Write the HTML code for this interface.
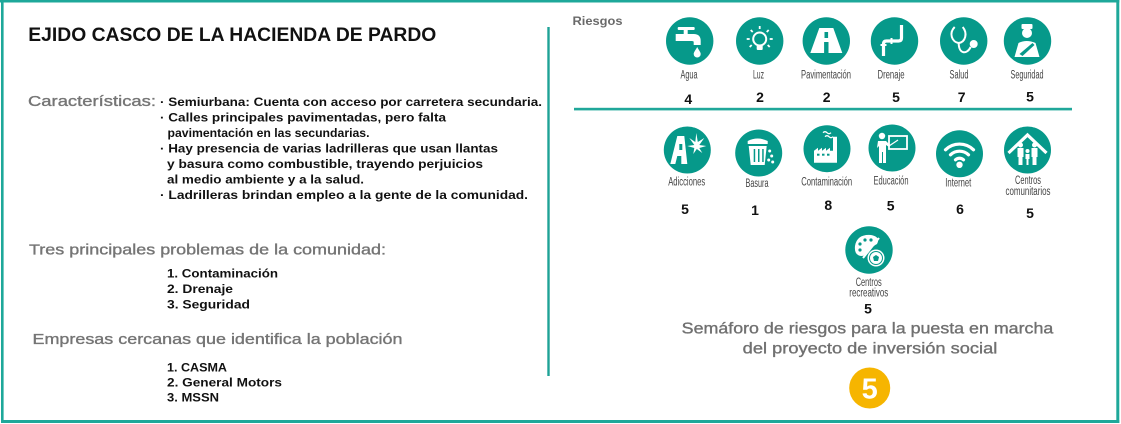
<!DOCTYPE html>
<html><head><meta charset="utf-8"><style>
html,body{margin:0;padding:0;background:#fff;}
svg{display:block;}
text{font-family:"Liberation Sans",sans-serif;}
.lb{font-size:11.5px;fill:#444;}
.nm{font-size:14px;font-weight:bold;fill:#111;text-anchor:middle;}
.bl{font-size:12px;font-weight:bold;fill:#111;}
.gr{font-size:14.5px;fill:#757575;stroke:#757575;stroke-width:0.35px;}
</style></head><body>
<svg width="1121" height="424" viewBox="0 0 1121 424" xmlns="http://www.w3.org/2000/svg">
<rect x="0" y="0" width="1121" height="424" fill="#fff"/>
<!-- border -->
<rect x="0" y="0" width="1119.3" height="2.5" fill="#1ea89a"/>
<rect x="1" y="0" width="2.6" height="423" fill="#1ea89a"/>
<rect x="1116.3" y="0" width="3" height="423" fill="#1ea89a"/>
<rect x="1" y="420" width="1118.3" height="3" fill="#1ea89a"/>
<!-- divider -->
<rect x="547.3" y="27" width="2.4" height="349" fill="#1ea296"/>
<rect x="574" y="107.8" width="498" height="2.6" fill="#20a79a"/>

<!-- left panel -->
<text x="28.3" y="41" font-size="19" font-weight="bold" fill="#111" textLength="408" lengthAdjust="spacingAndGlyphs">EJIDO CASCO DE LA HACIENDA DE PARDO</text>
<text class="gr" x="28" y="106" textLength="128" lengthAdjust="spacingAndGlyphs">Características:</text>
<text class="bl" x="160" y="106" textLength="382" lengthAdjust="spacingAndGlyphs">· Semiurbana: Cuenta con acceso por carretera secundaria.</text>
<text class="bl" x="160" y="121.5" textLength="286" lengthAdjust="spacingAndGlyphs">· Calles principales pavimentadas, pero falta</text>
<text class="bl" x="167.5" y="137" textLength="202" lengthAdjust="spacingAndGlyphs">pavimentación en las secundarias.</text>
<text class="bl" x="160" y="152.5" textLength="338" lengthAdjust="spacingAndGlyphs">· Hay presencia de varias ladrilleras que usan llantas</text>
<text class="bl" x="167" y="168" textLength="316" lengthAdjust="spacingAndGlyphs">y basura como combustible, trayendo perjuicios</text>
<text class="bl" x="167" y="183.5" textLength="197" lengthAdjust="spacingAndGlyphs">al medio ambiente y a la salud.</text>
<text class="bl" x="160" y="199" textLength="368" lengthAdjust="spacingAndGlyphs">· Ladrilleras brindan empleo a la gente de la comunidad.</text>

<text class="gr" x="29" y="254.3" textLength="357" lengthAdjust="spacingAndGlyphs">Tres principales problemas de la comunidad:</text>
<text class="bl" x="167" y="277.5" font-size="12.5" textLength="111" lengthAdjust="spacingAndGlyphs">1. Contaminación</text>
<text class="bl" x="167" y="293" font-size="12.5" textLength="66" lengthAdjust="spacingAndGlyphs">2. Drenaje</text>
<text class="bl" x="167" y="308.5" font-size="12.5" textLength="83" lengthAdjust="spacingAndGlyphs">3. Seguridad</text>

<text class="gr" x="32.5" y="344" textLength="370" lengthAdjust="spacingAndGlyphs">Empresas cercanas que identifica la población</text>
<text class="bl" x="167" y="371.7" font-size="12.5" textLength="60" lengthAdjust="spacingAndGlyphs">1. CASMA</text>
<text class="bl" x="167" y="386.7" font-size="12.5" textLength="115" lengthAdjust="spacingAndGlyphs">2. General Motors</text>
<text class="bl" x="167" y="401.7" font-size="12.5" textLength="52" lengthAdjust="spacingAndGlyphs">3. MSSN</text>

<!-- right panel -->
<text x="572.5" y="25" font-size="12" font-weight="bold" fill="#6a6a6a" textLength="50" lengthAdjust="spacingAndGlyphs">Riesgos</text>

<g fill="#06998a">
<circle cx="689.7" cy="41" r="23.7"/>
<circle cx="759.7" cy="41" r="23.7"/>
<circle cx="826.3" cy="41" r="23.7"/>
<circle cx="894.5" cy="41" r="23.7"/>
<circle cx="963.7" cy="41" r="23.7"/>
<circle cx="1027.5" cy="41" r="23.7"/>
<circle cx="687.3" cy="150" r="23.5"/>
<circle cx="758.7" cy="153" r="23.5"/>
<circle cx="827" cy="148.7" r="23.5"/>
<circle cx="892" cy="148" r="23.5"/>
<circle cx="959.5" cy="153.8" r="23.5"/>
<circle cx="1027.5" cy="150" r="23.5"/>
<circle cx="869" cy="250" r="23.7"/>
</g>

<!-- icons -->
<g fill="#fff" stroke="none">
<g transform="translate(689.7,41)">
<rect x="-12" y="-14" width="17" height="3" rx="1"/>
<rect x="-6" y="-11" width="4" height="5"/>
<path d="M-14,-7 H4 Q11,-7 11,0 V4 H4 V1 Q4,0 2,0 H-14 Z"/>
<path d="M7.5,6 C6,9 4,11 4,13 A3.5,3.5 0 0 0 11,13 C11,11 9,9 7.5,6 Z"/>
</g>
<g transform="translate(759.7,41)">
<circle cx="0" cy="-2" r="6.5" fill="none" stroke="#fff" stroke-width="2"/>
<rect x="-3" y="4" width="6" height="5" rx="1"/>
<g stroke="#fff" stroke-width="1.8">
<line x1="0" y1="-15" x2="0" y2="-12"/>
<line x1="-9" y1="-11" x2="-7" y2="-9"/>
<line x1="9" y1="-11" x2="7" y2="-9"/>
<line x1="-13" y1="-2" x2="-10" y2="-2"/>
<line x1="13" y1="-2" x2="10" y2="-2"/>
<line x1="-10" y1="6" x2="-8" y2="4"/>
<line x1="10" y1="6" x2="8" y2="4"/>
</g>
</g>
<g transform="translate(826.3,41)">
<path d="M-7,-13 H7 L16,12 H-16 Z"/>
<rect x="-1.8" y="-9" width="3.6" height="6" fill="#06998a"/>
<rect x="-2.2" y="1" width="4.4" height="11" fill="#06998a"/>
</g>
<g transform="translate(894.5,41)" fill="none" stroke="#fff" stroke-width="3.2">
<path d="M7,-16 V-3 Q7,0 4,0 H-8 Q-11,0 -11,3 V15"/>
<line x1="-14" y1="4" x2="-8" y2="4" stroke-width="2"/>
<line x1="-3" y1="-3" x2="-3" y2="3" stroke-width="2"/>
</g>
<g transform="translate(963.7,41)" fill="none" stroke="#fff" stroke-width="2">
<path d="M-9,-14 C-15,-8 -12,1 -5,2 C2,1 4,-8 -1,-14"/>
<path d="M-5,2 C-5,13 3,14 7,6"/>
<circle cx="10" cy="3" r="3" fill="#fff"/>
</g>
<g transform="translate(1027.5,41)">
<rect x="-6" y="-17" width="11" height="5" rx="1"/>
<circle cx="-0.5" cy="-8" r="5"/>
<path d="M-13,16 L-9,2 Q-1,-2 8,2 L12,16 Z"/>
<path d="M-8,13 L5,2 L7,4 L-5,15 Z" fill="#06998a"/>
</g>
<g transform="translate(687.3,150)">
<path d="M-10,-14 H-3 L0,14 H-6 L-6,6 H-10 L-12,14 H-17 Z"/>
<rect x="-8" y="-6" width="3" height="6" fill="#06998a"/>
<path d="M9,-17 L10.5,-8 L17,-12 L12,-5 L19,-4 L12,-2 L15,3 L9.5,-1 L6,4 L7,-2 L0,-4 L7,-5 L2,-12 L8,-8 Z"/>
</g>
<g transform="translate(758.7,153)">
<path d="M-11,-12 Q-1,-17 9,-12 V-9 H-11 Z"/>
<path d="M-10,-7 H8 L6,12 H-8 Z"/>
<g fill="#06998a"><rect x="-5" y="-4" width="1.5" height="13"/><rect x="-0.7" y="-4" width="1.5" height="13"/><rect x="3.5" y="-4" width="1.5" height="13"/></g>
<circle cx="11" cy="-2" r="1.5"/><circle cx="13" cy="3" r="1.5"/><circle cx="10" cy="7" r="1.5"/><circle cx="14" cy="9" r="1.5"/>
</g>
<g transform="translate(827,148.7)">
<path d="M-13,14 V2 L-9,-1 V2 L-5,-1 V2 L-1,-1 V2 L3,-1 V2 H6 V-12 H10 V14 Z"/>
<g fill="#06998a"><rect x="-10" y="5" width="2.5" height="2"/><rect x="-5" y="5" width="2.5" height="2"/><rect x="0" y="5" width="2.5" height="2"/></g>
<path d="M-4,-16 q2,-2 4,0 t4,0" fill="none" stroke="#fff" stroke-width="1.3"/>
<path d="M-2,-12 q2,-2 4,0 t4,0" fill="none" stroke="#fff" stroke-width="1.3"/>
</g>
<g transform="translate(892,148)">
<circle cx="-10" cy="-12" r="3.2"/>
<path d="M-14,-7 H-6 L-2,-3 L-3,-1 L-6,-3 V15 H-9 V4 H-10 V15 H-13 V-2 L-15,0 Z"/>
<rect x="-3" y="-12" width="18" height="13" fill="none" stroke="#fff" stroke-width="1.8"/>
<line x1="-3" y1="-2" x2="6" y2="-8" stroke="#fff" stroke-width="1.2"/>
</g>
<g transform="translate(959.5,153.8)" fill="none" stroke="#fff" stroke-width="3.2" stroke-linecap="round">
<path d="M-14,-4 A20,20 0 0 1 14,-4"/>
<path d="M-9,1 A13,13 0 0 1 9,1"/>
<path d="M-4,6 A6,6 0 0 1 4,6"/>
<circle cx="0" cy="11" r="1.6" fill="#fff"/>
</g>
<g transform="translate(1027.5,150)">
<path d="M-19,3 L0,-15 L19,3" fill="none" stroke="#fff" stroke-width="3.2"/>
<circle cx="-7" cy="-5" r="2.5"/><circle cx="7" cy="-5" r="2.5"/><circle cx="0" cy="1" r="2"/>
<path d="M-10,-2 H-4 V7 H-5 V15 H-9 V7 H-10 Z"/>
<path d="M4,-2 H10 V7 H9 V15 H5 V7 H4 Z"/>
<path d="M-2,4 H2 V9 H1 V15 H-1 V9 H-2 Z"/>
</g>
<g transform="translate(869,250)">
<path d="M-14,-4 Q-12,-16 2,-15 Q12,-13 8,-6 Q4,-4 2,-1 Q-2,6 -8,6 Q-15,5 -14,-4 Z"/>
<g fill="#06998a"><circle cx="-9" cy="-6" r="1.6"/><circle cx="-4" cy="-10" r="1.6"/><circle cx="2" cy="-10" r="1.6"/><circle cx="-9" cy="0" r="1.6"/></g>
<line x1="-6" y1="8" x2="10" y2="-12" stroke="#fff" stroke-width="2"/>
<circle cx="7" cy="8" r="8.5"/>
<circle cx="7" cy="8" r="6.5" fill="none" stroke="#06998a" stroke-width="1"/>
<path d="M7,5 L10,7 L9,11 L5,11 L4,7 Z" fill="#06998a"/>
</g>
</g>

<!-- labels row 1 -->
<text class="lb" x="680.5" y="78.5" textLength="17" lengthAdjust="spacingAndGlyphs">Agua</text>
<text class="lb" x="753" y="78.5" textLength="11" lengthAdjust="spacingAndGlyphs">Luz</text>
<text class="lb" x="801" y="78.5" textLength="50" lengthAdjust="spacingAndGlyphs">Pavimentación</text>
<text class="lb" x="877.5" y="78.5" textLength="27" lengthAdjust="spacingAndGlyphs">Drenaje</text>
<text class="lb" x="949.5" y="78.5" textLength="19" lengthAdjust="spacingAndGlyphs">Salud</text>
<text class="lb" x="1010.5" y="78.5" textLength="33" lengthAdjust="spacingAndGlyphs">Seguridad</text>
<text class="nm" x="688.3" y="104">4</text>
<text class="nm" x="760" y="102">2</text>
<text class="nm" x="826.7" y="102">2</text>
<text class="nm" x="896" y="102">5</text>
<text class="nm" x="961.7" y="102">7</text>
<text class="nm" x="1030" y="101.5">5</text>

<!-- labels row 2 -->
<text class="lb" x="668.2" y="185.5" textLength="37" lengthAdjust="spacingAndGlyphs">Adicciones</text>
<text class="lb" x="745.5" y="187" textLength="23" lengthAdjust="spacingAndGlyphs">Basura</text>
<text class="lb" x="801.2" y="185.5" textLength="51" lengthAdjust="spacingAndGlyphs">Contaminación</text>
<text class="lb" x="873.5" y="184.5" textLength="35" lengthAdjust="spacingAndGlyphs">Educación</text>
<text class="lb" x="945.3" y="186.5" textLength="26" lengthAdjust="spacingAndGlyphs">Internet</text>
<text class="lb" x="1015" y="184" textLength="26" lengthAdjust="spacingAndGlyphs">Centros</text>
<text class="lb" x="1005.5" y="195" textLength="45" lengthAdjust="spacingAndGlyphs">comunitarios</text>
<text class="nm" x="685" y="214">5</text>
<text class="nm" x="755" y="215">1</text>
<text class="nm" x="828.3" y="210">8</text>
<text class="nm" x="890.7" y="210.5">5</text>
<text class="nm" x="960" y="214">6</text>
<text class="nm" x="1030" y="218">5</text>

<!-- recreativos -->
<text class="lb" x="855.7" y="286" textLength="26" lengthAdjust="spacingAndGlyphs">Centros</text>
<text class="lb" x="849.3" y="296.7" textLength="39" lengthAdjust="spacingAndGlyphs">recreativos</text>
<text class="nm" x="868" y="313.3">5</text>

<!-- semaforo -->
<text x="681.7" y="333.7" font-size="15.5" fill="#707070" stroke="#707070" stroke-width="0.35" textLength="371.6" lengthAdjust="spacingAndGlyphs">Semáforo de riesgos para la puesta en marcha</text>
<text x="742.7" y="353.3" font-size="15.5" fill="#707070" stroke="#707070" stroke-width="0.35" textLength="254.6" lengthAdjust="spacingAndGlyphs">del proyecto de inversión social</text>
<circle cx="869.7" cy="388" r="20.5" fill="#f6b500"/>
<text x="869.7" y="398.5" font-size="29" font-weight="bold" fill="#fff" text-anchor="middle">5</text>
</svg>
</body></html>
